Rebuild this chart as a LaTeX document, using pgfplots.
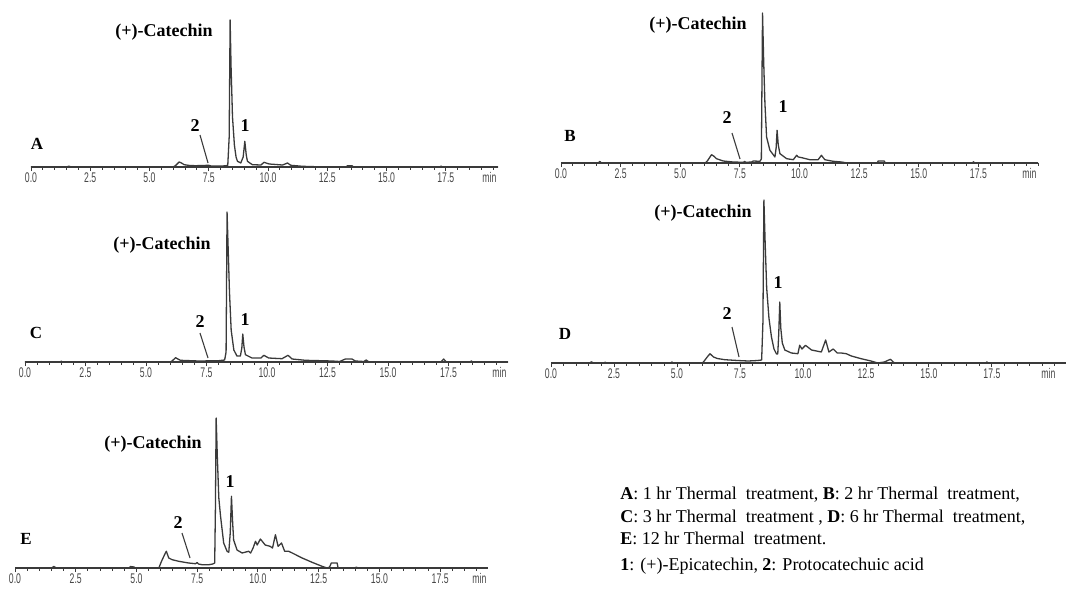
\documentclass[border=0pt]{standalone}
\usepackage{fontspec}
\setmainfont{Liberation Serif}
\newfontfamily\ticksans{Liberation Sans}
\usepackage{graphicx}
\usepackage{pgfplots}
\pgfplotsset{compat=1.18}

\definecolor{trace}{HTML}{3A3A3A}

\pgfplotsset{
  chrom/.style={
    scale only axis, clip=false,
    axis x line=bottom, axis y line=none,
    x axis line style={-, draw=trace, line width=0.6pt},
    xmin=0, ymin=0,
    xtick={0,2.5,...,17.5},
    minor xtick={0,0.5,...,21},
    tick align=outside,
    major tick length=2pt, minor tick length=1.4pt,
    every tick/.style={trace, line width=0.45pt},
    /pgf/number format/assume math mode=true,
    xticklabel={\scalebox{0.62}[1]{\pgfmathprintnumber[fixed,fixed zerofill,precision=1]{\tick}}},
    xticklabel style={font=\ticksans\fontsize{7}{8}\selectfont, text=black!72, inner sep=0.6pt},
    anchor=south west,
  },
  trc/.style={draw=trace, line width=0.65pt, mark=none, line join=round},
}
\newcommand\minlabel{\ticksans\fontsize{7}{8}\selectfont\color{black!72}\scalebox{0.62}[1]{min}}
\tikzset{
  cat/.style={font=\bfseries\fontsize{9}{10}\selectfont},
  num/.style={font=\bfseries\fontsize{9}{10}\selectfont},
  pan/.style={font=\bfseries\fontsize{8.5}{10}\selectfont},
  lead/.style={draw=trace, line width=0.55pt},
}

\begin{document}
\begin{tikzpicture}
\useasboundingbox (0pt,0pt) rectangle (533pt,295.5pt);

% ---- A: 1 hr
\begin{axis}[chrom, at={(15.5pt,212pt)}, width=233.5pt, height=73.5pt, xmax=19.7, ymax=147]
\addplot[trc] coordinates {
 (0,0) (1.5,0) (1.6,0.8) (1.7,0) (6.0,0) (6.1,1.5) (6.25,5) (6.35,4) (6.46,2.3)
 (6.7,1.5) (6.95,1.3) (7.5,1.7) (7.6,1) (8.08,1) (8.3,1.5) (8.36,30) (8.4,147)
 (8.44,100) (8.5,50) (8.58,22) (8.65,10) (8.71,5.7) (8.85,4) (8.95,10) (9.02,25.7)
 (9.08,12) (9.13,5.7) (9.34,2.3) (9.7,2) (9.83,4.7) (10.05,3) (10.61,2) (10.82,4)
 (10.96,1.7) (11.45,0.7) (12,0.3) (13.3,0.3) (13.35,1.2) (13.55,1.2) (13.6,0)
 (17.25,0) (17.3,1) (17.35,0) (19.7,0)
};
\node[anchor=north east, inner sep=0.6pt] at (rel axis cs:1,0) [yshift=-2pt] {\minlabel};
\end{axis}

% ---- B: 2 hr
\begin{axis}[chrom, at={(280.5pt,214pt)}, width=238.5pt, height=75pt, xmax=20, ymax=150]
\addplot[trc] coordinates {
 (0,0) (1.55,0) (1.63,1.5) (1.7,0) (6.05,0) (6.15,2.5) (6.31,8.3) (6.4,7) (6.52,4.3)
 (6.8,2) (7.22,1) (7.64,0.7) (7.7,1.5) (7.75,0.7) (8.0,1) (8.06,2) (8.34,1.7) (8.4,4)
 (8.45,150) (8.5,100) (8.55,60) (8.62,26) (8.76,12.7) (8.97,6) (9.02,15) (9.06,32.7)
 (9.11,18) (9.18,9.3) (9.46,4.3) (9.74,3.3) (9.88,7.7) (9.95,6) (10.1,5.3) (10.43,3.3)
 (10.78,3.3) (10.92,7.7) (11.06,3.3) (11.41,1.7) (11.76,1) (12,0) (13.25,0) (13.3,2)
 (13.55,2) (13.6,0) (17.25,0) (17.3,1.2) (17.35,0) (20,0)
};
\node[anchor=north east, inner sep=0.6pt] at (rel axis cs:1,0) [yshift=-2pt] {\minlabel};
\end{axis}

% ---- C: 3 hr
\begin{axis}[chrom, at={(12.5pt,114.5pt)}, width=241.5pt, height=75pt, xmax=19.96, ymax=150]
\addplot[trc] coordinates {
 (0,0) (1.45,0) (1.5,0.8) (1.55,0) (6.0,0) (6.08,1) (6.22,4.3) (6.42,1.7) (7.18,1)
 (8.0,1.3) (8.25,2) (8.31,10) (8.35,150) (8.4,110) (8.45,70) (8.52,32) (8.63,12)
 (8.76,6) (8.9,6) (8.96,14) (9.0,28) (9.05,15) (9.11,7.3) (9.38,4) (9.75,4) (9.87,6.7)
 (10.07,4) (10.62,3.3) (10.87,6.7) (11.04,3) (11.59,1.7) (12.7,1) (13.0,0.5) (13.24,3)
 (13.51,3) (13.65,1) (14.0,0.5) (14.1,2) (14.2,0.3) (17.2,0.3) (17.3,3) (17.4,0.3)
 (18.4,0.3) (18.45,1) (18.5,0) (19.96,0)
};
\node[anchor=north east, inner sep=0.6pt] at (rel axis cs:1,0) [yshift=-2pt] {\minlabel};
\end{axis}

% ---- D: 6 hr
\begin{axis}[chrom, at={(275.5pt,114pt)}, width=257.5pt, height=81.5pt, xmax=20.44, ymax=163]
\addplot[trc] coordinates {
 (0,0) (1.55,0) (1.6,1.2) (1.7,0) (2.1,0) (2.15,0.8) (2.2,0) (4.75,0) (4.8,1) (4.85,0)
 (6.0,0) (6.05,1) (6.2,6) (6.31,9.3) (6.45,6) (6.6,4.5) (6.9,3.3) (7.4,2.5) (7.83,2)
 (8.2,2.5) (8.36,3) (8.41,40) (8.45,163) (8.5,120) (8.56,75) (8.65,45) (8.75,26)
 (8.85,14) (8.95,9) (9.0,9) (9.04,30) (9.08,61) (9.12,35) (9.18,20) (9.28,13) (9.54,10)
 (9.8,9.3) (9.87,17.7) (9.96,14) (10.1,17.7) (10.34,13) (10.73,11) (10.9,23) (11.03,11)
 (11.2,14) (11.36,10) (11.52,10) (11.72,9.3) (11.92,7) (12.31,4.3) (12.7,2) (12.97,0)
 (13.23,1) (13.47,3.7) (13.63,0) (17.25,0) (17.3,1) (17.35,0) (20.44,0)
};
\node[anchor=north west, inner sep=0.6pt] at (axis cs:19.4,0) [yshift=-2pt] {\minlabel};
\end{axis}

% ---- E: 12 hr
\begin{axis}[chrom, at={(7.5pt,11.5pt)}, width=236.5pt, height=75pt, xmax=19.47, ymax=150]
\addplot[trc] coordinates {
 (0,0) (1.5,0) (1.6,1.5) (1.7,0) (4.7,0) (4.75,1.5) (4.9,1) (4.95,0) (5.92,0) (6.03,6.7)
 (6.19,15) (6.23,16.7) (6.33,10) (6.47,8.3) (6.74,6.7) (7.15,5) (7.43,4.3) (7.5,5.5)
 (7.55,4) (7.7,3.3) (7.98,3.3) (8.14,4) (8.22,5) (8.25,60) (8.28,150) (8.33,110)
 (8.39,70) (8.46,52) (8.59,25) (8.73,16.7) (8.8,15.7) (8.86,35) (8.91,71.7) (8.96,45)
 (9.0,28) (9.14,18) (9.35,15) (9.5,16) (9.62,16.7) (9.7,15) (9.8,20) (9.9,26.7)
 (9.97,23) (10.1,29) (10.3,23) (10.5,21.7) (10.6,20) (10.72,33.3) (10.83,21.7)
 (10.97,25) (11.1,16.7) (11.27,16.7) (11.47,14.3) (11.82,10) (12.23,5.7) (12.64,1.7)
 (12.85,0) (12.95,1) (13.02,5) (13.26,5) (13.3,0) (14.0,0) (14.05,1) (14.1,0) (19.47,0)
};
\node[anchor=north east, inner sep=0.6pt] at (rel axis cs:1,0) [yshift=-2pt] {\minlabel};
\end{axis}

% ---- annotations
\node[cat] at (82pt,279.5pt) {(+)-Catechin};
\node[num] at (97.5pt,232.5pt) {2};
\draw[lead] (100pt,228pt) -- (104pt,214pt);
\node[num] at (122.5pt,232.5pt) {1};
\node[pan] at (18.5pt,223.5pt) {A};

\node[cat] at (349pt,283pt) {(+)-Catechin};
\node[num] at (363.5pt,236.5pt) {2};
\draw[lead] (366pt,229pt) -- (370pt,216pt);
\node[num] at (391.5pt,242pt) {1};
\node[pan] at (285pt,227.5pt) {B};

\node[cat] at (81pt,173pt) {(+)-Catechin};
\node[num] at (100pt,134.5pt) {2};
\draw[lead] (100pt,129pt) -- (104pt,116.5pt);
\node[num] at (122.5pt,135.5pt) {1};
\node[pan] at (18pt,129pt) {C};

\node[cat] at (351.5pt,189pt) {(+)-Catechin};
\node[num] at (363.5pt,138.5pt) {2};
\draw[lead] (366pt,132pt) -- (369.5pt,117pt);
\node[num] at (389pt,154pt) {1};
\node[pan] at (282.5pt,128.5pt) {D};

\node[cat] at (76.5pt,73.5pt) {(+)-Catechin};
\node[num] at (89pt,34pt) {2};
\draw[lead] (91pt,29pt) -- (95pt,16.5pt);
\node[num] at (115pt,54.5pt) {1};
\node[pan] at (13pt,26pt) {E};

% ---- key
\begin{scope}[every node/.style={anchor=base west, inner sep=0pt, font=\fontsize{9}{10}\selectfont}]
\node at (310pt,46pt) {\textbf{A}: 1 hr Thermal\ \ treatment, \textbf{B}: 2 hr Thermal\ \ treatment,};
\node at (310pt,34.5pt) {\textbf{C}: 3 hr Thermal\ \ treatment , \textbf{D}: 6 hr Thermal\ \ treatment,};
\node at (310pt,23.5pt) {\textbf{E}: 12 hr Thermal\ \ treatment.};
\node at (310pt,10.5pt) {\textbf{1}: (+)-Epicatechin,\ \textbf{2}: Protocatechuic acid};
\end{scope}
\end{tikzpicture}
\end{document}
